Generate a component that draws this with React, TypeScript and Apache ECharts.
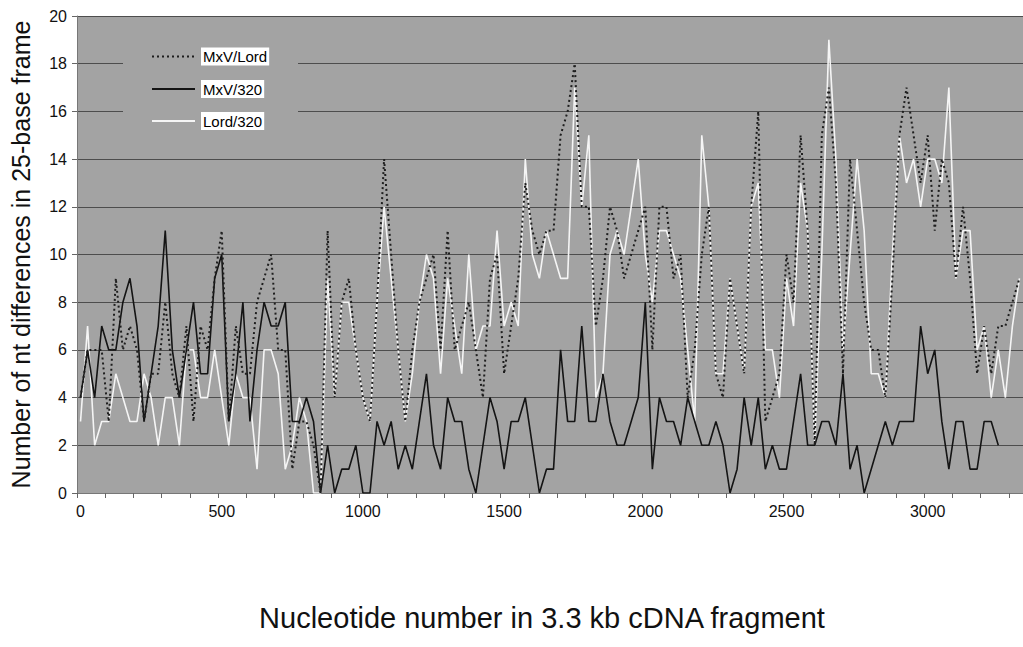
import React, { useEffect, useRef } from "react";
import * as echarts from "echarts";

const STEP = 25;
const N_POS = 134;
const positions: string[] = Array.from({ length: N_POS }, (_, i) => String(i * STEP));
const xTickLabels = ["0", "500", "1000", "1500", "2000", "2500", "3000"];

const seriesNames = ["MxV/Lord", "MxV/320", "Lord/320"];

const mxvLord = [
  4, 6, 6, 6, 3, 9, 6, 7, 6, 3,
  5, 5, 8, 5, 4, 7, 3, 7, 6, 9,
  11, 3, 7, 5, 5, 8, 9, 10, 6, 6,
  1, 3, 3, 2, 0, 11, 4, 8, 9, 6,
  4, 3, 8, 14, 10, 6, 3, 6, 8, 9,
  10, 6, 11, 6, 7, 8, 6, 4, 9, 10,
  5, 7, 9, 13, 11, 10, 11, 11, 15, 16,
  18, 12, 12, 7, 9, 12, 11, 9, 10, 11,
  12, 6, 12, 12, 9, 10, 4, 6, 10, 12,
  5, 4, 9, 7, 5, 12, 16, 3, 4, 5,
  10, 8, 15, 11, 2, 15, 17, 13, 5, 14,
  11, 8, 6, 6, 4, 9, 15, 17, 15, 13,
  15, 11, 14, 13, 9, 12, 9, 5, 7, 5,
  7, 7, 8, 9,
];

const mxv320 = [
  4, 6, 4, 7, 6, 6, 8, 9, 7, 3,
  5, 7, 11, 6, 4, 6, 8, 5, 5, 9,
  10, 3, 5, 8, 3, 6, 8, 7, 7, 8,
  3, 3, 4, 3, 0, 2, 0, 1, 1, 2,
  0, 0, 3, 2, 3, 1, 2, 1, 3, 5,
  2, 1, 4, 3, 3, 1, 0, 2, 4, 3,
  1, 3, 3, 4, 2, 0, 1, 1, 6, 3,
  3, 7, 3, 3, 5, 3, 2, 2, 3, 4,
  8, 1, 4, 3, 3, 2, 4, 3, 2, 2,
  3, 2, 0, 1, 4, 2, 4, 1, 2, 1,
  1, 3, 5, 2, 2, 3, 3, 2, 5, 1,
  2, 0, 1, 2, 3, 2, 3, 3, 3, 7,
  5, 6, 3, 1, 3, 3, 1, 1, 3, 3,
  2,
];

const lord320 = [
  3, 7, 2, 3, 3, 5, 4, 3, 3, 5,
  4, 2, 4, 4, 2, 6, 6, 4, 4, 6,
  4, 2, 5, 4, 4, 1, 6, 6, 5, 1,
  2, 4, 3, 0, 0, 9, 4, 8, 8, 6,
  4, 3, 8, 12, 9, 6, 3, 5, 8, 10,
  9, 5, 9, 7, 5, 10, 6, 7, 7, 11,
  7, 8, 7, 14, 10, 9, 11, 10, 9, 9,
  17, 12, 15, 4, 5, 10, 11, 10, 12, 14,
  10, 8, 11, 11, 10, 9, 6, 3, 15, 12,
  5, 5, 9, 7, 5, 12, 13, 6, 6, 4,
  9, 7, 13, 11, 2, 10, 19, 14, 6, 10,
  14, 11, 5, 5, 4, 10, 15, 13, 14, 12,
  14, 14, 13, 17, 9, 11, 11, 6, 7, 4,
  6, 4, 7, 9,
];

const FONT = "'Liberation Sans', Arial, Helvetica, sans-serif";
const PLOT_BG = "#a3a3a3";
const DOTTED_COLOR = "#1e1e1e";
const SOLID_COLOR = "#141414";
const WHITE_COLOR = "#f5f5f5";

function legendItem(name: string, y: number, color: string, dash: number[] | null, width: number) {
  return [
    {
      type: "line",
      z: 5,
      silent: true,
      shape: { x1: 152, y1: y, x2: 195, y2: y },
      style: { stroke: color, lineWidth: width, lineDash: dash || undefined },
    },
    {
      type: "text",
      z: 5,
      silent: true,
      x: 201,
      y: y,
      style: {
        text: name,
        font: `15px ${FONT}`,
        fill: "#000",
        verticalAlign: "middle",
        align: "left",
        backgroundColor: "#ffffff",
        padding: [2, 2, 1, 2],
      },
    },
  ];
}

export default function App() {
  const ref = useRef<HTMLDivElement>(null);

  useEffect(() => {
    if (!ref.current) return;
    const chart = echarts.init(ref.current, null, { renderer: "svg" });
    const option: any = {
      animation: false,
      backgroundColor: "#ffffff",
      grid: {
        left: 77,
        right: 0,
        top: 16,
        bottom: 154,
        show: true,
        backgroundColor: PLOT_BG,
        borderWidth: 0,
      },
      graphic: [
        {
          type: "rect",
          z: 1,
          silent: true,
          shape: { x: 123, y: 30, width: 175, height: 100 },
          style: { fill: PLOT_BG },
        },
        ...legendItem(seriesNames[0], 56.5, DOTTED_COLOR, [2, 3], 2),
        ...legendItem(seriesNames[1], 89, SOLID_COLOR, null, 2),
        ...legendItem(seriesNames[2], 121, WHITE_COLOR, null, 1.8),
      ],
      xAxis: {
        type: "category",
        data: positions,
        boundaryGap: true,
        name: "Nucleotide number in 3.3 kb cDNA fragment",
        nameLocation: "middle",
        nameGap: 110,
        nameTextStyle: { fontFamily: FONT, fontSize: 29, color: "#111", padding: [0, 16, 0, 0] },
        axisLine: { show: true, lineStyle: { color: "#777", width: 1 } },
        axisTick: {
          show: true,
          interval: (i: number) => i % 4 === 0,
          length: 5,
          lineStyle: { color: "#666" },
        },
        axisLabel: {
          interval: (_i: number, v: string) => xTickLabels.includes(v),
          fontFamily: FONT,
          fontSize: 16,
          color: "#111",
          margin: 10,
        },
        splitLine: { show: false },
      },
      yAxis: {
        type: "value",
        min: 0,
        max: 20,
        interval: 2,
        name: "Number of nt differences in 25-base frame",
        nameLocation: "middle",
        nameGap: 44,
        nameRotate: 90,
        nameTextStyle: { fontFamily: FONT, fontSize: 25, color: "#111" },
        axisLine: { show: true, lineStyle: { color: "#777", width: 1 } },
        axisTick: { show: true, length: 5, lineStyle: { color: "#666" } },
        axisLabel: { fontFamily: FONT, fontSize: 16, color: "#111", margin: 10 },
        splitLine: { show: true, lineStyle: { color: "#4d4d4d", width: 1 } },
      },
      series: [
        {
          name: seriesNames[2],
          type: "line",
          data: lord320,
          symbol: "none",
          z: 2,
          lineStyle: { color: WHITE_COLOR, width: 1.6 },
          itemStyle: { color: WHITE_COLOR },
        },
        {
          name: seriesNames[1],
          type: "line",
          data: mxv320,
          symbol: "none",
          z: 3,
          lineStyle: { color: SOLID_COLOR, width: 1.6 },
          itemStyle: { color: SOLID_COLOR },
        },
        {
          name: seriesNames[0],
          type: "line",
          data: mxvLord,
          symbol: "none",
          z: 4,
          lineStyle: { color: DOTTED_COLOR, width: 2, type: [2, 3] },
          itemStyle: { color: DOTTED_COLOR },
        },
      ],
    };
    chart.setOption(option);
    return () => chart.dispose();
  }, []);

  return (
    <div
      ref={ref}
      style={{ position: "fixed", left: 0, top: 0, width: 1023, height: 647 }}
    />
  );
}
